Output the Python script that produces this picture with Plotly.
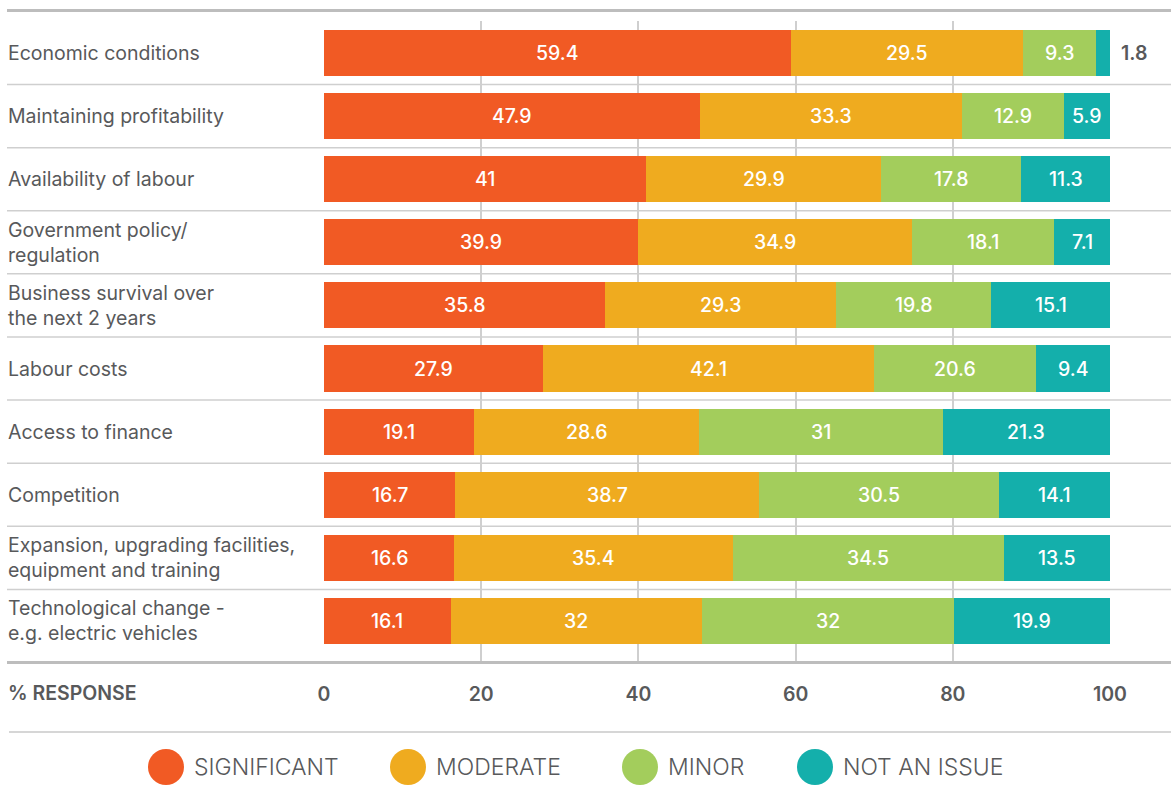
import plotly.graph_objects as go

categories = [
    "Economic conditions",
    "Maintaining profitability",
    "Availability of labour",
    "Government policy/<br>regulation",
    "Business survival over<br>the next 2 years",
    "Labour costs",
    "Access to finance",
    "Competition",
    "Expansion, upgrading facilities,<br>equipment and training",
    "Technological change -<br>e.g. electric vehicles",
]
significant = [59.4, 47.9, 41, 39.9, 35.8, 27.9, 19.1, 16.7, 16.6, 16.1]
moderate = [29.5, 33.3, 29.9, 34.9, 29.3, 42.1, 28.6, 38.7, 35.4, 32]
minor = [9.3, 12.9, 17.8, 18.1, 19.8, 20.6, 31, 30.5, 34.5, 32]
not_an_issue = [1.8, 5.9, 11.3, 7.1, 15.1, 9.4, 21.3, 14.1, 13.5, 19.9]
series_names = ["SIGNIFICANT", "MODERATE", "MINOR", "NOT AN ISSUE"]
x_ticks = [0, 20, 40, 60, 80, 100]

colors = ["#F15A24", "#EFAB1F", "#A3CD5C", "#14AFAB"]
FONT = "Inter"
GREY = "#58595B"
FS = 19.5

series = [significant, moderate, minor, not_an_issue]
idx = list(range(len(categories)))

fig = go.Figure()
for name, vals, col in zip(series_names, series, colors):
    fig.add_trace(go.Bar(
        y=idx, x=vals, name=name, orientation="h",
        marker=dict(color=col, line=dict(width=0)),
        width=0.73, showlegend=False, hoverinfo="x+name",
    ))

annotations = []
# value labels
for i in idx:
    start = 0
    for vals in series:
        v = vals[i]
        if v >= 3:
            annotations.append(dict(
                x=start + v / 2, y=i, xref="x", yref="y", text=f"{v:g}",
                showarrow=False, font=dict(family=FONT, size=FS, color="white", weight=500),
            ))
        else:
            annotations.append(dict(
                x=100, y=i, xref="x", yref="y", text=f"{v:g}", xanchor="left", xshift=9,
                showarrow=False, font=dict(family=FONT, size=FS, color=GREY, weight=600),
            ))
        start += v

LX = (6 - 324) / 786
# category labels
for i, c in enumerate(categories):
    annotations.append(dict(
        x=LX, y=i, xref="paper", yref="y", text=c, xanchor="left", align="left",
        showarrow=False, font=dict(family=FONT, size=FS, color=GREY),
    ))

# % RESPONSE label
annotations.append(dict(
    x=LX, y=(661 - 693) / 640, xref="paper", yref="paper", text="% RESPONSE", xanchor="left",
    yanchor="middle", showarrow=False, font=dict(family=FONT, size=FS, color=GREY, weight=600),
))

shapes = []
# top and bottom lines
shapes.append(dict(type="line", xref="paper", yref="paper", x0=(7 - 324) / 786, x1=1.078,
                   y0=(661 - 10.5) / 640, y1=(661 - 10.5) / 640, line=dict(color="#BDBDBD", width=3)))
shapes.append(dict(type="line", xref="paper", yref="paper", x0=(7 - 324) / 786, x1=1.078,
                   y0=(661 - 662.5) / 640, y1=(661 - 662.5) / 640, line=dict(color="#BDBDBD", width=3)))
# row separators
for i in range(len(categories) - 1):
    shapes.append(dict(type="line", xref="paper", yref="y", x0=(7 - 324) / 786, x1=1.078,
                       y0=i + 0.5, y1=i + 0.5, line=dict(color="#CFCFCF", width=1.5), layer="below"))
# line above legend
shapes.append(dict(type="line", xref="paper", yref="paper", x0=(9 - 324) / 786, x1=1.078,
                   y0=(661 - 732) / 640, y1=(661 - 732) / 640, line=dict(color="#C8C8C8", width=1.5)))

# legend (circles + labels)
leg_cx = [166, 408, 640, 815]
leg_cy = 767
r = 18
for cx, col, name in zip(leg_cx, colors, series_names):
    x0 = (cx - r - 324) / 786
    x1 = (cx + r - 324) / 786
    y0 = (661 - (leg_cy + r)) / 640
    y1 = (661 - (leg_cy - r)) / 640
    shapes.append(dict(type="circle", xref="paper", yref="paper", x0=x0, x1=x1, y0=y0, y1=y1,
                       fillcolor=col, line=dict(width=0)))
    annotations.append(dict(
        x=(cx + r + 8 - 324) / 786, y=(661 - leg_cy) / 640, xref="paper", yref="paper",
        text=name, xanchor="left", yanchor="middle", showarrow=False,
        font=dict(family=FONT, size=23, color=GREY, weight=300),
    ))

fig.update_layout(
    width=1171, height=798,
    margin=dict(l=324, r=61, t=21, b=137),
    paper_bgcolor="white", plot_bgcolor="white",
    barmode="stack", bargap=0.27,
    xaxis=dict(range=[0, 100], tickvals=x_ticks, showgrid=True, gridcolor="#CFCFCF", gridwidth=1.5,
               zeroline=False, showline=False, ticks="", ticklabelstandoff=19,
               tickfont=dict(family=FONT, size=FS, color=GREY, weight=600), fixedrange=True),
    yaxis=dict(range=[9.635, -0.507], showticklabels=False, showgrid=False, zeroline=False,
               showline=False, fixedrange=True),
    shapes=shapes, annotations=annotations,
    font=dict(family=FONT),
)

fig.write_html("out.html", config={"displayModeBar": False},
               post_script="document.body.style.margin='0';")
